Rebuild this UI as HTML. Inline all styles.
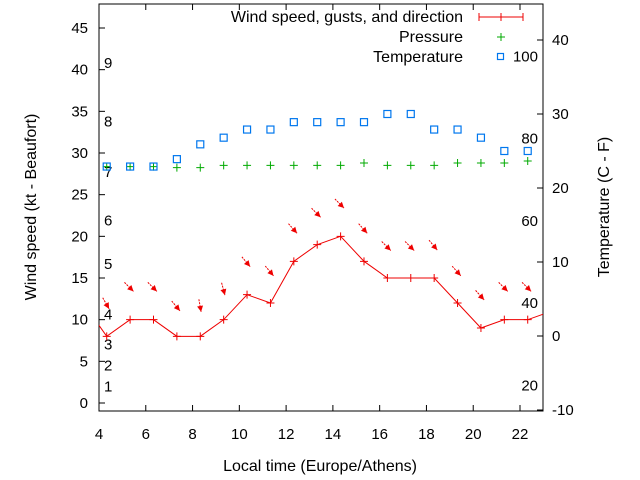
<!DOCTYPE html>
<html><head><meta charset="utf-8"><style>
html,body{margin:0;padding:0;background:#fff;}
svg{display:block;font-family:"Liberation Sans",Arial,sans-serif;}
</style></head><body>
<svg id="chart" width="640" height="480" viewBox="0 0 640 480" xmlns="http://www.w3.org/2000/svg">
<g id="axes"></g>
<g id="marks"></g>
<text x="320" y="471" font-size="16" text-anchor="middle">Local time (Europe/Athens)</text>
<text transform="translate(36,207) rotate(-90)" font-size="16" text-anchor="middle">Wind speed (kt - Beaufort)</text>
<text transform="translate(609,207) rotate(-90)" font-size="16" text-anchor="middle">Temperature (C - F)</text>
<g font-size="16">
<g><text x="463" y="22" text-anchor="end">Wind speed, gusts, and direction</text>
<path d="M479 17H523M479 13V21M523 13V21M501 13V21" stroke="#e00" stroke-width="1" fill="none"/></g>
<g><text x="463" y="42" text-anchor="end">Pressure</text>
<path d="M497 37H505M501 33V41" stroke="#0a0" stroke-width="1"/></g>
<g><text x="463" y="62" text-anchor="end">Temperature</text>
<rect x="497.5" y="53.5" width="6" height="6" fill="none" stroke="#07e" stroke-width="1.2"/></g>
</g>
</svg>
<script>
const hours = [3.33,4.33,5.33,6.33,7.33,8.33,9.33,10.33,11.33,12.33,13.33,14.33,15.33,16.33,17.33,18.33,19.33,20.33,21.33,22.33,23.33];
const windSpeed = [12,8,10,10,8,8,10,13,12,17,19,20,17,15,15,15,12,9,10,10,11];
const gusts = [null,11.8,13.8,13.8,11.5,11.5,13.5,16.8,15.7,20.8,22.7,23.8,20.8,18.7,18.7,18.8,15.7,12.8,13.8,13.8,null];
const windDir = [null,330,315,315,320,350,345,320,320,318,315,315,318,315,315,320,318,318,315,315,null];
const pressure = [null,28.36,28.36,28.36,28.24,28.24,28.52,28.52,28.52,28.52,28.52,28.52,28.8,28.52,28.52,28.52,28.8,28.8,28.8,29.04,null];
const tempC = [null,22.9,22.9,22.9,23.9,25.9,26.8,27.9,27.9,28.9,28.9,28.9,28.9,30,30,27.9,27.9,26.8,25,25,null];
const xTicks = [4,6,8,10,12,14,16,18,20,22];
const yTicks = [0,5,10,15,20,25,30,35,40,45];
const y2Ticks = [-10,0,10,20,30,40];
const beaufortLabels = ["1","2","3","4","5","6","7","8","9"];
const beaufortKt = [2,4.5,7,10.6,16.7,21.9,27.7,33.8,40.8];
const fLabels = ["20","40","60","80","100"];

const L=99,R=543,T=4,B=411;
function x(h){return L+(h-4)*(520-L)/18;}
function y(v){return 403-v*(403-28)/45;}
function y2(c){return 336-c*(336-40)/40;}
const NS="http://www.w3.org/2000/svg";
function mk(tag,attrs,parent){const e=document.createElementNS(NS,tag);for(const k in attrs)e.setAttribute(k,attrs[k]);parent.appendChild(e);return e;}
const ax=document.getElementById('axes'), mg=document.getElementById('marks');

const frame=mk('rect',{x:L,y:T,width:R-L,height:B-T,fill:'none',stroke:'#000','stroke-width':1},ax);


xTicks.forEach(h=>{
  const t=mk('path',{d:`M${x(h)} ${B}V${B-6}M${x(h)} ${T}V${T+6}`,stroke:'#000'},ax);
  
  
  const l=mk('text',{x:x(h),y:439,'font-size':15,'text-anchor':'middle'},ax);l.textContent=h;
  
  
});
yTicks.forEach(v=>{
  const t=mk('path',{d:`M${L} ${y(v)}H${L+6}`,stroke:'#000'},ax);
  
  
  const l=mk('text',{x:88,y:y(v)+5,'font-size':15,'text-anchor':'end'},ax);l.textContent=v;
  
  
});
y2Ticks.forEach(c=>{
  const t=mk('path',{d:`M${R} ${y2(c)}H${R-6}`,stroke:'#000'},ax);
  
  
  const l=mk('text',{x:552,y:y2(c)+5,'font-size':15},ax);l.textContent=c;
  
  
});
beaufortLabels.forEach((s,i)=>{
  const l=mk('text',{x:104,y:y(beaufortKt[i])+5,'font-size':15},ax);l.textContent=s;
  
  
});
fLabels.forEach(s=>{
  const c=(parseFloat(s)-32)*5/9;
  const l=mk('text',{x:538,y:y2(c)+5,'font-size':15,'text-anchor':'end'},ax);l.textContent=s;
  
  
});

const defs=mk('defs',{},mg);
const cp=mk('clipPath',{id:'clip'},defs);
mk('rect',{x:L,y:T,width:R-L,height:B-T},cp);
const g=mk('g',{'clip-path':'url(#clip)'},mg);

const pts=hours.map((h,i)=>`${x(h)},${y(windSpeed[i])}`).join(' ');
const line=mk('polyline',{points:pts,fill:'none',stroke:'#e00','stroke-width':1},g);


hours.forEach((h,i)=>{
  const px=x(h),py=y(windSpeed[i]);
  const p=mk('path',{d:`M${px-4} ${py}H${px+4}M${px} ${py-4}V${py+4}`,stroke:'#e00'},g);
  
  
  if(gusts[i]!=null){
    const a=(windDir[i])*Math.PI/180;
    const dx=-Math.sin(a),dy=Math.cos(a);
    const cx=x(h),cy=y(gusts[i]),len=8;
    const x1=cx-dx*len,y1=cy-dy*len,x2=cx+dx*len*0.6,y2b=cy+dy*len*0.6;
    const ar=mk('g',{},g);
    
    
    mk('line',{x1:x1,y1:y1,x2:x2,y2:y2b,stroke:'#e00','stroke-width':1,'stroke-dasharray':'2,1'},ar);
    const hx=x2,hy=y2b,px2=-dy,py2=dx;
    const bx=hx-dx*6,by=hy-dy*6;
    mk('polygon',{points:`${hx},${hy} ${bx+px2*3},${by+py2*3} ${bx-px2*3},${by-py2*3}`,fill:'#e00'},ar);
  }
  if(pressure[i]!=null){
    const qx=x(h),qy=y(pressure[i]);
    const q=mk('path',{d:`M${qx-4} ${qy}H${qx+4}M${qx} ${qy-4}V${qy+4}`,stroke:'#0a0'},g);
    
    
  }
  if(tempC[i]!=null){
    const r=mk('rect',{x:x(h)-3.5,y:y2(tempC[i])-3.5,width:7,height:7,fill:'none',stroke:'#07e','stroke-width':1.2},g);
    
    
  }
});
</script>
</body></html>
